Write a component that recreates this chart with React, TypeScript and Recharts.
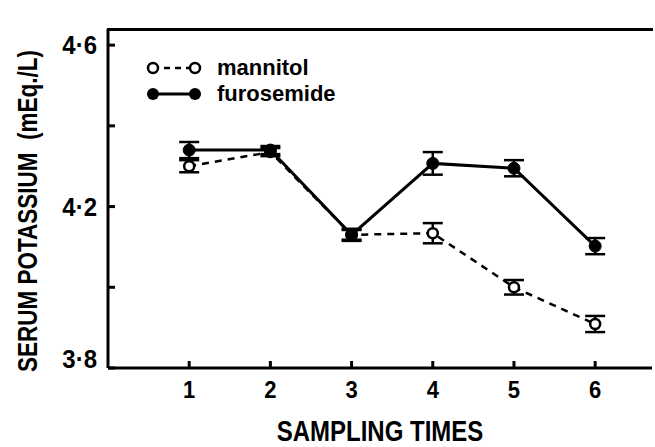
import React from 'react';
import { LineChart, Line, XAxis, YAxis, ErrorBar } from 'recharts';

const samplingTimes = [1, 2, 3, 4, 5, 6];
const mannitol = [4.3, 4.335, 4.13, 4.134, 4.0, 3.909];
const mannitolErr = [0.015, 0.01, 0.015, 0.025, 0.018, 0.02];
const furosemide = [4.34, 4.34, 4.13, 4.307, 4.295, 4.102];
const furosemideErr = [0.02, 0.01, 0.012, 0.028, 0.02, 0.02];
const yTicks = [3.8, 4.0, 4.2, 4.4, 4.6];
const yLabelled = ['3·8', '4·2', '4·6'];

const data = samplingTimes.map((t, i) => ({
  t,
  man: mannitol[i],
  manErr: mannitolErr[i],
  fur: furosemide[i],
  furErr: furosemideErr[i],
}));

const FONT = '"Liberation Sans", Arial, sans-serif';

const fmtY = (v: number) => v.toFixed(1).replace('.', '·');

const YTick = ({ x, y, payload }: any) => {
  const label = fmtY(payload.value);
  const axisX = x + 11;
  // bottom label sits on the axis, others centred on their tick
  const dy = label === '3·8' ? 0 : 9;
  return (
    <g>
      <line x1={axisX} x2={axisX + 7} y1={y} y2={y} stroke="#000" strokeWidth={3} />
      {yLabelled.includes(label) && (
        <text
          transform={`translate(${x},${y + dy}) scale(1,1.1)`}
          textAnchor="end"
          fontFamily={FONT}
          fontWeight={700}
          fontSize={24}
          fill="#000"
        >
          {label}
        </text>
      )}
    </g>
  );
};

const XTick = ({ x, y, payload }: any) => {
  const axisY = y - 10;
  return (
    <g>
      <line x1={x} x2={x} y1={axisY} y2={axisY - 7} stroke="#000" strokeWidth={3} />
      <text
        transform={`translate(${x},${axisY + 30}) scale(1,1.1)`}
        textAnchor="middle"
        fontFamily={FONT}
        fontWeight={700}
        fontSize={22}
        fill="#000"
      >
        {payload.value}
      </text>
    </g>
  );
};

const OpenDot = ({ cx, cy }: any) => (
  <circle cx={cx} cy={cy} r={5} fill="#fff" stroke="#000" strokeWidth={2.5} />
);
const FilledDot = ({ cx, cy }: any) => <circle cx={cx} cy={cy} r={6} fill="#000" stroke="#000" />;

const LegendBox = () => (
  <div
    style={{
      position: 'absolute',
      left: 143,
      top: 55,
      fontFamily: FONT,
      fontWeight: 700,
      fontSize: 22,
      lineHeight: '26px',
    }}
  >
    <div style={{ display: 'flex', alignItems: 'center' }}>
      <svg width={62} height={20}>
        <line x1={10} x2={52} y1={10} y2={10} stroke="#000" strokeWidth={2.5} strokeDasharray="6 5" />
        <circle cx={10} cy={10} r={5} fill="#fff" stroke="#000" strokeWidth={2.5} />
        <circle cx={52} cy={10} r={5} fill="#fff" stroke="#000" strokeWidth={2.5} />
      </svg>
      <span style={{ marginLeft: 12 }}>mannitol</span>
    </div>
    <div style={{ display: 'flex', alignItems: 'center' }}>
      <svg width={62} height={20}>
        <line x1={10} x2={52} y1={10} y2={10} stroke="#000" strokeWidth={3} />
        <circle cx={10} cy={10} r={6} fill="#000" />
        <circle cx={52} cy={10} r={6} fill="#000" />
      </svg>
      <span style={{ marginLeft: 12 }}>furosemide</span>
    </div>
  </div>
);

const YLabel = () => (
  <text
    transform="translate(37,372) rotate(-90) scale(1,1.25)"
    textAnchor="start"
    fontFamily={FONT}
    fontWeight={700}
    fontSize={22.5}
    fill="#000"
  >
    SERUM POTASSIUM{'\u00a0\u00a0'}(mEq./L)
  </text>
);

const XLabel = () => (
  <text
    transform="translate(380,441) scale(1,1.2)"
    textAnchor="middle"
    fontFamily={FONT}
    fontWeight={700}
    fontSize={24}
    fill="#000"
  >
    SAMPLING TIMES
  </text>
);

export default function App() {
  return (
    <div style={{ position: 'absolute', left: 0, top: 0, width: 655, height: 447, background: '#fff' }}>
      <LineChart width={655} height={447} data={data} margin={{ top: 29, right: 3, bottom: 0, left: 0 }}>
        <XAxis
          dataKey="t"
          type="number"
          domain={[0, 6.7]}
          ticks={samplingTimes}
          height={79}
          tickSize={0}
          tickMargin={10}
          tickLine={false}
          tick={<XTick />}
          axisLine={{ stroke: '#000', strokeWidth: 3 }}
          label={<XLabel />}
        />
        <YAxis
          type="number"
          domain={[3.8, 4.64]}
          ticks={yTicks}
          allowDataOverflow
          width={108}
          tickSize={0}
          tickMargin={11}
          tickLine={false}
          tick={<YTick />}
          axisLine={{ stroke: '#000', strokeWidth: 3 }}
          label={<YLabel />}
        />
        <Line
          dataKey="man"
          type="linear"
          stroke="#000"
          strokeWidth={2.5}
          strokeDasharray="7 6"
          dot={<OpenDot />}
          isAnimationActive={false}
        >
          <ErrorBar dataKey="manErr" width={10} stroke="#000" strokeWidth={2.5} />
        </Line>
        <Line
          dataKey="fur"
          type="linear"
          stroke="#000"
          strokeWidth={3}
          dot={<FilledDot />}
          isAnimationActive={false}
        >
          <ErrorBar dataKey="furErr" width={10} stroke="#000" strokeWidth={2.5} />
        </Line>
      </LineChart>
      {/* top frame line of the original figure */}
      <div style={{ position: 'absolute', left: 107, top: 28, width: 546, height: 3, background: '#000' }} />
      <LegendBox />
    </div>
  );
}
